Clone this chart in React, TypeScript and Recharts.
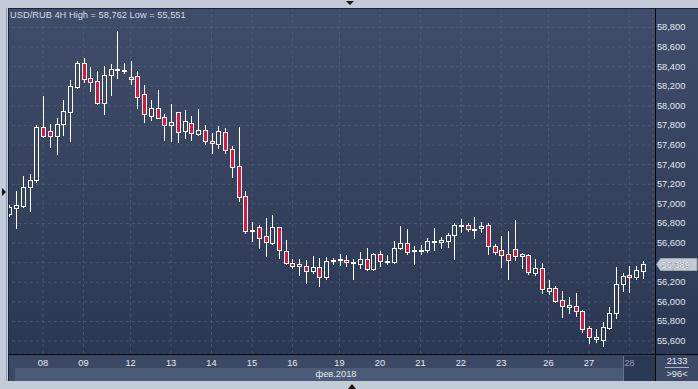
import React from "react";
import {
  ComposedChart,
  Bar,
  XAxis,
  YAxis,
  CartesianGrid,
  ReferenceLine,
} from "recharts";

// USD/RUB, 4H candles, Feb 2018
const OPEN = [
  56.894, 56.961, 56.979, 57.176, 57.244, 57.782, 57.741, 57.696, 57.812, 57.941,
  58.196, 58.435, 58.282, 58.251, 58.027, 58.312, 58.366, 58.356, 58.271, 58.305,
  58.118, 57.9, 57.979, 57.884, 57.802, 57.935, 57.741, 57.822, 57.716, 57.751,
  57.642, 57.608, 57.731, 57.557, 57.384, 57.078, 56.72, 56.761, 56.673, 56.604,
  56.761, 56.516, 56.394, 56.369, 56.366, 56.318, 56.356, 56.254, 56.417, 56.435,
  56.425, 56.397, 56.39, 56.435, 56.333, 56.486, 56.41, 56.404, 56.547, 56.598,
  56.53, 56.519, 56.527, 56.611, 56.614, 56.625, 56.68, 56.778, 56.785, 56.741,
  56.751, 56.785, 56.57, 56.527, 56.489, 56.537, 56.468, 56.476, 56.298, 56.343,
  56.114, 56.139, 56.016, 55.951, 55.955, 55.907, 55.731, 55.625, 55.614, 55.737,
  55.89, 56.18, 56.275, 56.257, 56.318,
];
const HIGH = [
  56.989, 57.132, 57.285, 57.305, 57.805, 58.101, 57.812, 57.874, 58.06, 58.261,
  58.458, 58.489, 58.397, 58.353, 58.404, 58.428, 58.762, 58.435, 58.458, 58.356,
  58.213, 58.06, 58.162, 57.914, 58.019, 57.94, 57.958, 57.9, 57.965, 57.805,
  57.72, 57.79, 57.771, 57.591, 57.788, 57.132, 56.812, 56.785, 56.859, 56.887,
  56.767, 56.632, 56.441, 56.435, 56.428, 56.468, 56.448, 56.458, 56.451, 56.492,
  56.476, 56.438, 56.506, 56.55, 56.496, 56.519, 56.479, 56.625, 56.775, 56.744,
  56.567, 56.581, 56.652, 56.754, 56.659, 56.7, 56.802, 56.846, 56.802, 56.866,
  56.812, 56.802, 56.588, 56.673, 56.724, 56.836, 56.496, 56.486, 56.438, 56.394,
  56.224, 56.162, 56.114, 56.053, 56.094, 55.917, 55.754, 55.724, 55.798, 55.951,
  56.359, 56.298, 56.369, 56.366, 56.42,
];
const LOW = [
  56.877, 56.751, 56.965, 56.931, 57.227, 57.686, 57.584, 57.512, 57.703, 57.645,
  58.18, 58.241, 58.155, 58.019, 57.914, 58.108, 58.282, 58.333, 58.224, 57.982,
  57.839, 57.856, 57.877, 57.652, 57.645, 57.635, 57.676, 57.652, 57.703, 57.608,
  57.516, 57.574, 57.516, 57.278, 57.033, 56.7, 56.625, 56.553, 56.471, 56.588,
  56.451, 56.384, 56.343, 56.275, 56.196, 56.295, 56.165, 56.237, 56.387, 56.377,
  56.369, 56.234, 56.349, 56.33, 56.326, 56.369, 56.384, 56.397, 56.54, 56.489,
  56.39, 56.486, 56.504, 56.53, 56.553, 56.563, 56.441, 56.716, 56.727, 56.655,
  56.71, 56.486, 56.486, 56.359, 56.237, 56.428, 56.349, 56.282, 56.275, 56.088,
  56.081, 55.999, 55.849, 55.89, 55.856, 55.696, 55.578, 55.594, 55.551, 55.72,
  55.839, 56.114, 56.104, 56.234, 56.247,
];
const CLOSE = [
  56.965, 56.989, 57.176, 57.244, 57.782, 57.696, 57.69, 57.815, 57.945, 58.2,
  58.435, 58.271, 58.241, 58.027, 58.312, 58.374, 58.377, 58.366, 58.292, 58.094,
  57.914, 57.982, 57.88, 57.802, 57.833, 57.737, 57.843, 57.72, 57.751, 57.639,
  57.618, 57.741, 57.553, 57.38, 57.074, 56.727, 56.734, 56.655, 56.608, 56.761,
  56.527, 56.394, 56.369, 56.384, 56.318, 56.356, 56.257, 56.414, 56.428, 56.441,
  56.404, 56.404, 56.435, 56.333, 56.489, 56.417, 56.417, 56.547, 56.598, 56.512,
  56.533, 56.533, 56.621, 56.618, 56.632, 56.683, 56.785, 56.785, 56.741, 56.744,
  56.775, 56.567, 56.512, 56.482, 56.431, 56.465, 56.486, 56.302, 56.343, 56.129,
  56.139, 56.012, 55.961, 55.968, 55.904, 55.727, 55.645, 55.642, 55.741, 55.887,
  56.18, 56.264, 56.254, 56.326, 56.389,
];

// first bar of each trading day
const DAY_START = [5, 11, 18, 24, 30, 36, 42, 49, 55, 61, 67, 73, 80, 86, 92];
const DAY_LABELS = ["08", "09", "12", "13", "14", "15", "16", "19", "20", "21", "22", "23", "26", "27", "28"];
const PRICE_TICKS = [
  55.6, 55.8, 56.0, 56.2, 56.4, 56.6, 56.8, 57.0, 57.2, 57.4, 57.6, 57.8, 58.0,
  58.2, 58.4, 58.6, 58.8,
];
const SLOTS = 96;
const Y_MIN = 55.468;
const Y_MAX = 58.999;

const RED = "#e2143c";
const FRAME = "#c2cbd7";
const FONT = "'Liberation Sans', Arial, sans-serif";
const TXT = "#e3e8f1";

const LAST = CLOSE[CLOSE.length - 1];

const fmt = (v: number) => v.toFixed(3).replace(".", ",");

const data = Array.from({ length: SLOTS }, (_, i) => ({
  i,
  o: OPEN[i],
  h: HIGH[i],
  l: LOW[i],
  c: CLOSE[i],
}));

function Candle(props: any) {
  const { x, y, width, height, payload } = props;
  if (!payload || payload.o == null || height == null) return null;
  const { o, h, l, c } = payload;
  const top = Math.min(y, y + height);
  const span = Math.abs(height);
  const k = h - l > 0 ? span / (h - l) : 0;
  const cx = Math.round(x + width / 2);
  const bt = Math.round(top + (h - Math.max(o, c)) * k) + 0.5;
  let bb = Math.round(top + (h - Math.min(o, c)) * k) + 0.5;
  if (bb - bt < 1) bb = bt + 1;
  const up = c >= o;
  return (
    <g>
      <line x1={cx + 0.5} x2={cx + 0.5} y1={Math.round(top)} y2={bt} stroke="#fff" strokeWidth={1} />
      <line x1={cx + 0.5} x2={cx + 0.5} y1={bb} y2={Math.round(top + span) + 1} stroke="#fff" strokeWidth={1} />
      <rect
        x={cx - 1.5}
        y={bt}
        width={4}
        height={bb - bt}
        fill={up ? "none" : RED}
        stroke="#fff"
        strokeWidth={1}
      />
    </g>
  );
}

function DayTick(props: any) {
  const { x, y, payload } = props;
  const idx = DAY_START.indexOf(payload.value);
  const last = idx === DAY_START.length - 1;
  return (
    <text
      x={x}
      y={y + 9}
      textAnchor="middle"
      dominantBaseline="central"
      fontSize={9.3}
      fontFamily={FONT}
      fill={last ? "#8d99b0" : TXT}
    >
      {DAY_LABELS[idx]}
    </text>
  );
}

function PriceTick(props: any) {
  const { x, y, payload } = props;
  // the current-price tag covers the nearest label
  if (Math.abs(payload.value - LAST) < 0.06) return <g />;
  return (
    <text x={x} y={y} textAnchor="start" dominantBaseline="central" fontSize={9.3} fontFamily={FONT} fill={TXT}>
      {fmt(payload.value)}
    </text>
  );
}

function PriceTag(props: any) {
  const { viewBox, value } = props;
  if (!viewBox) return null;
  const yc = Math.round(viewBox.y) + 0.5;
  const tip = viewBox.x + viewBox.width + 3.6;
  const pts = `${tip},${yc} ${tip + 4},${yc - 6} 697,${yc - 6} 697,${yc + 6} ${tip + 4},${yc + 6}`;
  return (
    <g>
      <polygon points={pts} fill="#c6cbd3" stroke="#9ba3b1" strokeWidth={1} />
      <text
        x={tip + 5}
        y={yc}
        dominantBaseline="central"
        fontSize={9.3}
        fontFamily={FONT}
        fill="#ffffff"
        stroke="#707a8c"
        strokeWidth={0.7}
        paintOrder="stroke"
      >
        {value}
      </text>
    </g>
  );
}

const abs = (l: number, t: number, w: number, h: number, extra: React.CSSProperties = {}): React.CSSProperties => ({
  position: "absolute",
  left: l,
  top: t,
  width: w,
  height: h,
  ...extra,
});

export default function App() {
  const title = `USD/RUB 4H High = ${fmt(Math.max(...HIGH))} Low = ${fmt(Math.min(...LOW))}`;

  return (
    <div style={abs(0, 0, 698, 389, { background: FRAME, overflow: "hidden", fontFamily: FONT })}>
      {/* panel background */}
      <div style={abs(8, 8, 690, 347, { background: "linear-gradient(#3f4d6a, #2b3853)" })} />
      <div style={abs(8, 355, 690, 26, { background: "#3b4965" })} />
      <div style={abs(15, 368, 608, 13, { background: "#4b5a76" })} />
      <div
        style={abs(296, 368, 80, 13, {
          color: TXT,
          fontSize: 9.3,
          lineHeight: "13px",
          textAlign: "center",
        })}
      >
        фев.2018
      </div>
      <div style={abs(623, 356, 32, 25, { background: "#2b3853", borderLeft: "1px solid #66748f" })} />

      <div style={abs(0, 0, 698, 389)}>
        <ComposedChart
          width={698}
          height={389}
          data={data}
          margin={{ top: 8, right: 3.07, bottom: 8, left: 5.93 }}
          barCategoryGap={0}
        >
          <CartesianGrid stroke="#56658299" strokeDasharray="3 3" />
          <XAxis
            dataKey="i"
            type="category"
            ticks={DAY_START}
            interval={0}
            axisLine={false}
            tickLine={false}
            tickSize={0}
            tickMargin={0}
            height={27}
            tick={(p: any) => <DayTick {...p} />}
          />
          <YAxis
            orientation="right"
            type="number"
            domain={[Y_MIN, Y_MAX]}
            allowDataOverflow
            ticks={PRICE_TICKS}
            interval={0}
            width={42}
            axisLine={false}
            tickLine={false}
            tickSize={2}
            tickMargin={2}
            tick={(p: any) => <PriceTick {...p} />}
          />
          <Bar
            dataKey={(d: any) => (d.o == null ? null : [d.l, d.h])}
            barSize={5}
            isAnimationActive={false}
            shape={(p: any) => <Candle {...p} />}
          />
          <ReferenceLine
            y={LAST}
            stroke="none"
            ifOverflow="visible"
            label={<PriceTag value={fmt(LAST)} />}
          />
        </ComposedChart>
      </div>

      {/* frame + separators */}
      <div style={abs(0, 0, 8, 389, { background: FRAME })} />
      <div style={abs(6, 8, 1, 373, { background: "#8e9aab" })} />
      <div style={abs(0, 0, 698, 8, { background: FRAME })} />
      <div style={abs(0, 381, 698, 8, { background: FRAME })} />
      <div style={abs(8, 8, 690, 1, { background: "#1c2536" })} />
      <div style={abs(8, 8, 1, 373, { background: "#1c2536" })} />
      <div style={abs(655, 8, 1, 373, { background: "#05070c" })} />
      <div style={abs(8, 354, 690, 1, { background: "#05070c" })} />

      {/* bottom right counter */}
      <div style={abs(656, 355, 42, 13, { color: TXT, fontSize: 9.3, lineHeight: "13px", textAlign: "center" })}>2133</div>
      <div style={abs(665, 367, 24, 1, { background: "#aab4c4" })} />
      <div style={abs(656, 368, 42, 13, { color: TXT, fontSize: 9.3, lineHeight: "13px", textAlign: "center" })}>
        &gt;96&lt;
      </div>

      {/* title */}
      <div style={abs(10, 9, 300, 13, { color: "#d6dbe5", fontSize: 9.3, lineHeight: "13px", whiteSpace: "nowrap" })}>
        {title}
      </div>

      {/* scroll arrows */}
      <div
        style={abs(346, 1, 0, 0, {
          borderLeft: "4px solid transparent",
          borderRight: "4px solid transparent",
          borderTop: "4px solid #111",
        })}
      />
      <div
        style={abs(348, 384, 0, 0, {
          borderLeft: "4px solid transparent",
          borderRight: "4px solid transparent",
          borderBottom: "5px solid #111",
        })}
      />
      <div
        style={abs(2, 188, 0, 0, {
          borderTop: "4px solid transparent",
          borderBottom: "4px solid transparent",
          borderLeft: "4px solid #111",
        })}
      />
    </div>
  );
}
